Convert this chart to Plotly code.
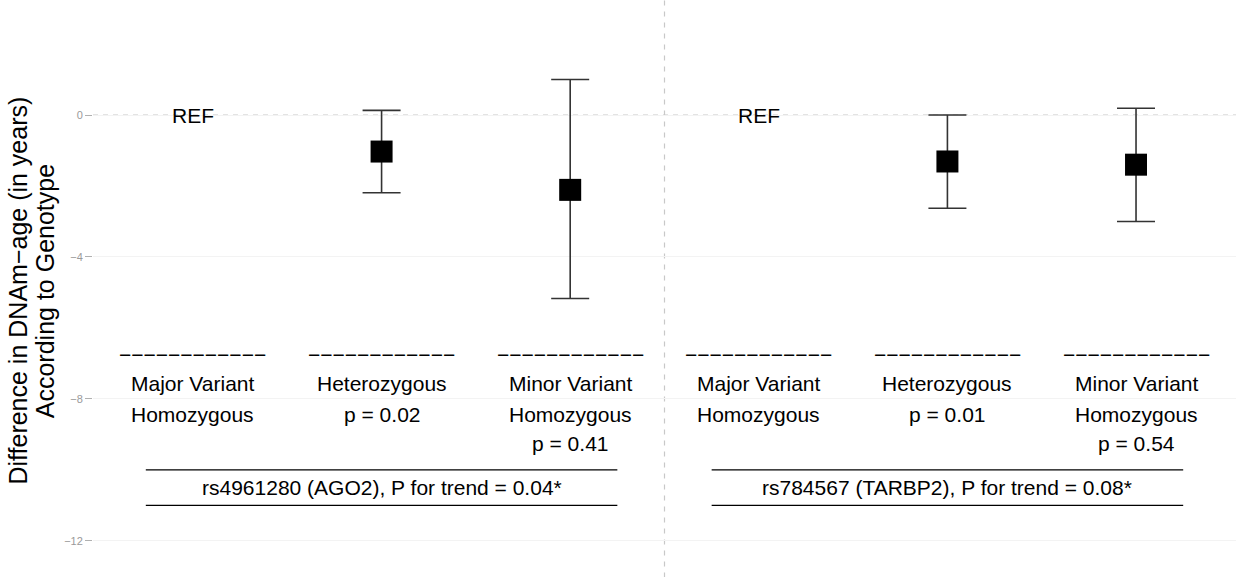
import plotly.graph_objects as go

# ---- data ----
x_pos = [1, 2, 3, 4, 5, 6]
estimates = [None, -1.03, -2.11, None, -1.31, -1.40]
ci_upper = [None, 0.13, 1.00, None, 0.00, 0.19]
ci_lower = [None, -2.19, -5.17, None, -2.63, -3.00]
group_line1 = ["Major Variant", "Heterozygous", "Minor Variant"] * 2
group_line2 = ["Homozygous", "p = 0.02", "Homozygous", "Homozygous", "p = 0.01", "Homozygous"]
group_line3 = ["", "", "p = 0.41", "", "", "p = 0.54"]
ref_x = [1, 4]
snp_labels = ["rs4961280 (AGO2), P for trend = 0.04*", "rs784567 (TARBP2), P for trend = 0.08*"]
snp_centers = [2, 5]
snp_spans = [(0.75, 3.25), (3.75, 6.25)]
y_ticks = [0, -4, -8, -12]
y_ticktext = ["0", "\u22124", "\u22128", "\u221212"]

FONT = "Liberation Sans, Arial, Helvetica, sans-serif"
TXT = 21
ROW_Y = [-6.74, -7.58, -8.43, -9.26]  # text row anchors (data units)

pts_x = [x for x, e in zip(x_pos, estimates) if e is not None]
pts_y = [e for e in estimates if e is not None]
err_plus = [u - e for u, e in zip(ci_upper, estimates) if e is not None]
err_minus = [e - l for l, e in zip(ci_lower, estimates) if e is not None]

fig = go.Figure()
fig.add_trace(go.Scatter(
    x=pts_x, y=pts_y, mode="markers",
    marker=dict(symbol="square", size=22, color="black"),
    error_y=dict(type="data", symmetric=False, array=err_plus, arrayminus=err_minus,
                 color="#333333", thickness=1.6, width=19),
    showlegend=False, hoverinfo="skip",
))

# reference lines
fig.add_shape(type="line", xref="paper", x0=0, x1=1, yref="y", y0=0, y1=0,
              line=dict(color="#c8c8c8", width=1.2, dash="5px,5px"), layer="below")
fig.add_shape(type="line", xref="x", x0=3.5, x1=3.5, yref="paper", y0=-0.02, y1=1.01,
              line=dict(color="#c8c8c8", width=1.2, dash="5px,6px"), layer="below")

annotations = []


def txt(x, y, s, size=TXT, **kw):
    d = dict(x=x, y=y, xref="x", yref="y", text=s, showarrow=False,
             font=dict(family=FONT, size=size, color="black"),
             xanchor="center", yanchor="middle")
    d.update(kw)
    annotations.append(d)


for rx in ref_x:
    txt(rx, 0, "REF")

dash_text = "\u2212" * 12
for i, xp in enumerate(x_pos):
    lines = [dash_text, group_line1[i], group_line2[i], group_line3[i]]
    for yy, s in zip(ROW_Y, lines):
        if s:
            txt(xp, yy, s)

for lab, cx, (a, b) in zip(snp_labels, snp_centers, snp_spans):
    txt(cx, -10.5, lab)
    for yy in (-10.0, -11.0):
        fig.add_shape(type="line", xref="x", yref="y", x0=a, x1=b, y0=yy, y1=yy,
                      line=dict(color="black", width=1.3))

# y-axis title (two lines)
for xp, s in [(-0.0660, "Difference in DNAm\u2212age (in years)"),
              (-0.0418, "According to Genotype")]:
    annotations.append(dict(x=xp, y=0.5, xref="paper", yref="paper", text=s,
                            textangle=-90, showarrow=False,
                            font=dict(family=FONT, size=25, color="black"),
                            xanchor="center", yanchor="middle"))

fig.update_layout(
    width=1236, height=577,
    margin=dict(l=93, r=0, t=5, b=0),
    paper_bgcolor="white", plot_bgcolor="white",
    annotations=annotations,
    xaxis=dict(range=[0.47, 6.53], showgrid=False, zeroline=False, showticklabels=False,
               ticks="", showline=False, fixedrange=True),
    yaxis=dict(range=[-13.02, 3.1], tickvals=y_ticks, ticktext=y_ticktext,
               showgrid=True, gridcolor="#f3f3f3", gridwidth=1, zeroline=False,
               ticks="outside", ticklen=7, tickcolor="#b0b0b0", tickwidth=1,
               tickfont=dict(family=FONT, size=11, color="#9a9a9a"),
               showline=False, fixedrange=True),
    font=dict(family=FONT),
)

fig.write_html("out.html")
